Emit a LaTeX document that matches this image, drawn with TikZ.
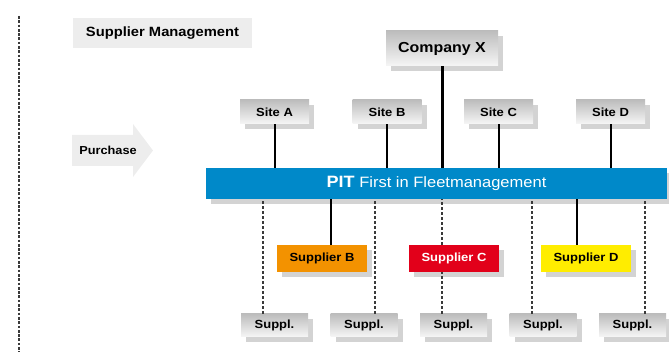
\documentclass[tikz,border=0pt]{standalone}
\usepackage{fontspec}
\setmainfont{Liberation Sans}[FakeStretch=1.1]
\usetikzlibrary{shadows}

\definecolor{pitblue}{HTML}{0089C9}
\definecolor{suporange}{HTML}{F39200}
\definecolor{supred}{HTML}{E2001A}
\definecolor{supyellow}{HTML}{FFED00}
\definecolor{paleGrey}{HTML}{EDEDED}
\definecolor{shadowGrey}{HTML}{D3D3D3}
\definecolor{boxTop}{HTML}{BDBDBD}
\definecolor{boxBot}{HTML}{F6F6F6}
\definecolor{lineGrey}{HTML}{3A3A3A}

\begin{document}
\begin{tikzpicture}[x=1pt, y=-1pt,
    box/.style = {inner sep=0pt, font=\bfseries\fontsize{11.8}{14}\selectfont,
      general shadow={fill=shadowGrey, shadow xshift=5pt, shadow yshift=-5pt}},
    greybox/.style = {box, top color=boxTop, bottom color=boxBot},
    site/.style = {greybox, minimum width=69pt, minimum height=24pt},
    suppl/.style = {greybox, minimum width=67pt, minimum height=23pt},
    supplier/.style = {box, minimum width=90pt, minimum height=27pt},
    link/.style = {line width=2pt},
    dashed link/.style = {draw=lineGrey, line width=1.2pt, dash pattern=on 3pt off 2pt}]

  \useasboundingbox (0,0) rectangle (669,352);

  % left separator
  \coordinate (sepTop) at (19,16);
  \coordinate (sepBot) at (19,352);
  \draw[draw=lineGrey, line width=1.5pt, dash pattern=on 2.7pt off 1.6pt] (sepTop) -- (sepBot);

  \node[fill=paleGrey, minimum width=179pt, minimum height=30pt, inner sep=0pt,
    font=\bfseries\fontsize{13.4}{16}\selectfont] (title) at (162.5,33) {Supplier Management};

  % purchase arrow
  \fill[paleGrey] (72,135) -- (133,135) -- (133,124) -- (153,150.5) -- (133,177)
    -- (133,166) -- (72,166) -- cycle;
  \node[font=\bfseries\fontsize{11.6}{14}\selectfont] (purchase) at (108,150.5) {Purchase};

  \node[greybox, minimum width=112pt, minimum height=35pt,
    font=\bfseries\fontsize{14.5}{17}\selectfont] (company) at (442,48.5) {Company X};

  \foreach \n/\x in {A/274.5, B/387, C/498.5, D/610.5}
    \node[site] (Site_\n) at (\x,112) {Site \n};

  \node[box, fill=pitblue, text=white, minimum width=461pt, minimum height=31pt, font=\fontsize{15}{18}\selectfont]
    (PIT) at (436.5,183.5) {{\bfseries\fontsize{16.4}{18}\selectfont PIT} First in Fleetmanagement};

  \node[supplier, fill=suporange] (Sup_B) at (322,258.5) {Supplier B};
  \node[supplier, fill=supred, text=white] (Sup_C) at (454,258.5) {Supplier C};
  \node[supplier, fill=supyellow] (Sup_D) at (586,258.5) {Supplier D};

  \foreach \i/\x in {1/274.5, 2/364, 3/453.5, 4/543, 5/632.5}
    \node[suppl] (Suppl_\i) at (\x,325.5) {Suppl.};

  % connectors
  \draw[line width=3pt] (company) -- (company |- PIT.north);
  \foreach \n in {A, B, C, D}
    \draw[link] (Site_\n) -- (Site_\n |- PIT.north);

  \draw[link] ([xshift=9pt]Sup_B.north) -- ([xshift=9pt]Sup_B.north |- PIT.south);
  \draw[link] ([xshift=-9pt]Sup_D.north) -- ([xshift=-9pt]Sup_D.north |- PIT.south);

  \foreach \i/\dx in {1/-11.5, 2/11, 4/-11, 5/12.5}
    \draw[dashed link] ([xshift=\dx pt]Suppl_\i.north) -- ([xshift=\dx pt]Suppl_\i.north |- PIT.south);
  \draw[dashed link] ([xshift=-12pt]Sup_C.north) -- ([xshift=-12pt]Sup_C.north |- PIT.south);
  \draw[dashed link] ([xshift=-11.5pt]Suppl_3.north) -- ([xshift=-11.5pt]Suppl_3.north |- Sup_C.south);

\end{tikzpicture}
\end{document}
